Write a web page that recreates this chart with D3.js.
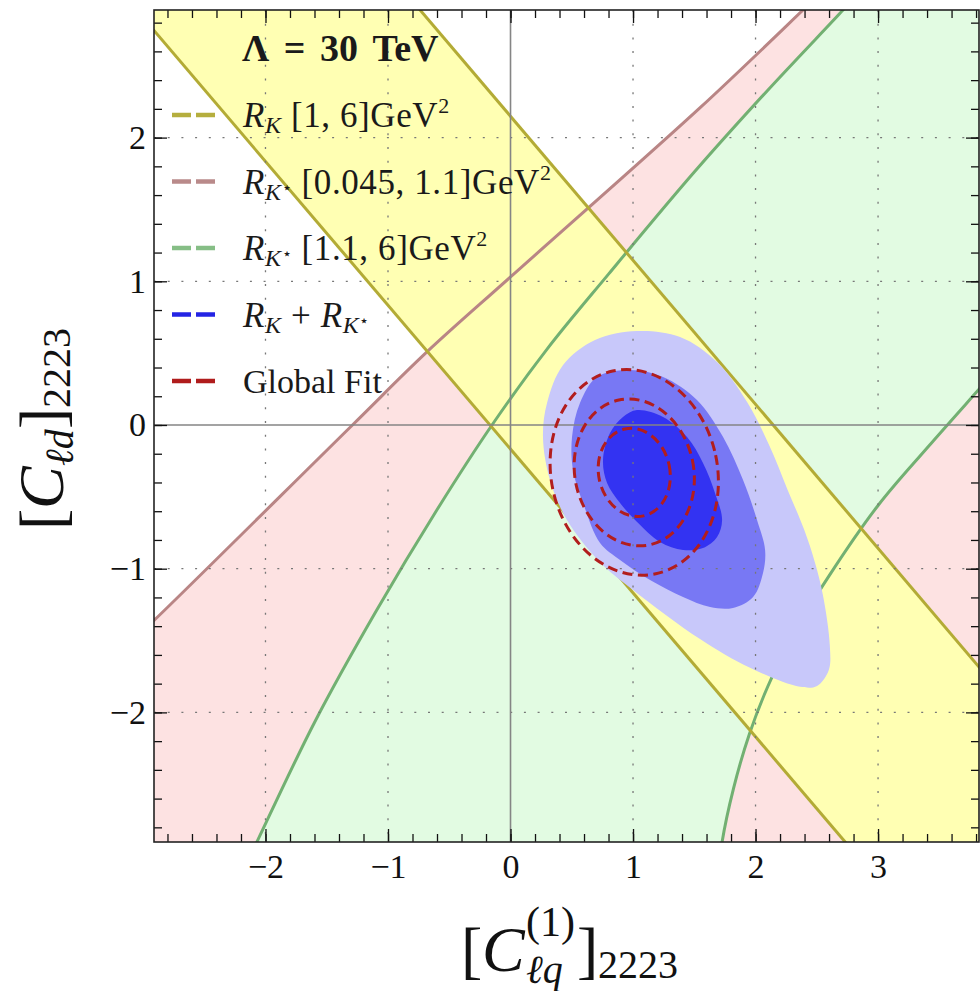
<!DOCTYPE html>
<html>
<head>
<meta charset="utf-8">
<script src="https://cdn.jsdelivr.net/npm/d3@7"></script>
<style>
    body { margin: 0; background: #fff; }
    svg { display: block; font-family: "Liberation Serif", "Times New Roman", "DejaVu Serif", serif; }
</style>
</head>
<body>
<div id="chart"></div>
<script>
// axis ranges and ticks
const xDomain = [-2.91, 3.824];
const yDomain = [-2.902, 2.888];
const xTicks = [-2, -1, 0, 1, 2, 3];
const yTicks = [-2, -1, 0, 1, 2];
const minorStep = 0.2;

// R_K [1,6] band : two points on each straight edge
const rkLowerEdge = [[-2.90, 2.735], [2.73, -2.90]];
const rkUpperEdge = [[-0.74, 2.89], [3.83, -1.69]];

// R_K* [0.045,1.1] boundary (allowed side is below / right)
const rksLowEdge = [[-3.0, -1.43], [-2.91, -1.36], [-1.29, 0], [-0.68, 0.51], [0, 1.03], [1.55, 2.21], [2.39, 2.89], [2.5, 2.98]];

// R_K* [1.1,6] boundaries (allowed between them)
const rksHighLeft = [[-2.12, -2.99], [-2.069, -2.90], [-1.6, -2.07], [-1.1, -1.30], [-0.6, -0.59], [-0.151, 0], [0.3, 0.53], [0.8, 1.05], [1.5, 1.76], [2.1, 2.33], [2.714, 2.888], [2.80, 2.97]];
const rksHighRight = [[3.95, 0.37], [3.833, 0.257], [3.4, -0.16], [3.0, -0.56], [2.6, -1.05], [2.3, -1.47], [2.1, -1.82], [1.95, -2.15], [1.82, -2.53], [1.727, -2.902], [1.715, -2.99]];

// R_K + R_K* contours (3, 2, 1 sigma)
const comb3 = [[1.033, 0.654], [1.384, 0.612], [1.686, 0.438], [1.931, 0.160], [2.118, -0.153], [2.262, -0.452], [2.398, -0.731], [2.486, -0.960], [2.553, -1.197], [2.606, -1.531], [2.598, -1.705], [2.502, -1.816], [2.363, -1.822], [1.955, -1.690], [1.547, -1.490], [1.000, -1.148], [0.731, -0.955], [0.461, -0.661], [0.322, -0.383], [0.265, -0.084], [0.298, 0.153], [0.429, 0.418], [0.690, 0.592]];
const comb2 = [[0.976, 0.383], [1.245, 0.334], [1.522, 0.174], [1.735, -0.084], [1.898, -0.383], [2.012, -0.661], [2.078, -0.870], [2.061, -1.030], [1.980, -1.197], [1.816, -1.273], [1.629, -1.267], [1.408, -1.197], [1.139, -1.079], [0.894, -0.939], [0.731, -0.821], [0.592, -0.543], [0.510, -0.313], [0.502, -0.084], [0.567, 0.153], [0.706, 0.334]];
const comb1 = [[1.033, 0.104], [1.245, 0.056], [1.441, -0.084], [1.571, -0.264], [1.669, -0.473], [1.727, -0.661], [1.686, -0.779], [1.571, -0.856], [1.408, -0.870], [1.220, -0.814], [1.033, -0.675], [0.894, -0.543], [0.788, -0.404], [0.755, -0.244], [0.812, -0.056], [0.918, 0.056]];

// global fit ellipses
const fitCenter = [1.01, -0.33];
const fitRadii = [0.30, 0.50, 0.70];

// legend
const legendTitle = 'Λ = 30 TeV';
const legendLabels = [
    [['R', 'i'], ['K', 'sub'], [' [1, 6]GeV', 'r'], ['2', 'sup']],
    [['R', 'i'], ['K', 'sub'], ['⋆', 'star'], [' [0.045, 1.1]GeV', 'r'], ['2', 'sup']],
    [['R', 'i'], ['K', 'sub'], ['⋆', 'star'], [' [1.1, 6]GeV', 'r'], ['2', 'sup']],
    [['R', 'i'], ['K', 'sub'], [' + ', 'r'], ['R', 'i'], ['K', 'sub'], ['⋆', 'star']],
    [['Global Fit', 'g']]
];

// ******************************* //
// DRAW
// ******************************* //
const W = 980, H = 991;
const P = { left: 154, right: 979, top: 10, bottom: 842 };

const svg = d3.select('#chart').append('svg').attr('width', W).attr('height', H);

const x = d3.scaleLinear().domain(xDomain).range([P.left, P.right]);
const y = d3.scaleLinear().domain(yDomain).range([P.bottom, P.top]);

svg.append('clipPath').attr('id', 'plot-clip')
    .append('rect')
    .attr('x', P.left).attr('y', P.top)
    .attr('width', P.right - P.left).attr('height', P.bottom - P.top);

const plot = svg.append('g').attr('clip-path', 'url(#plot-clip)');

const curve = d3.line().x(d => x(d[0])).y(d => y(d[1])).curve(d3.curveCatmullRom.alpha(0.5));
const closed = d3.line().x(d => x(d[0])).y(d => y(d[1])).curve(d3.curveCatmullRomClosed.alpha(0.5));
const straight = d3.line().x(d => x(d[0])).y(d => y(d[1]));
const pt = d => x(d[0]) + ',' + y(d[1]);

// far corners outside the frame, used to close fills
const x0 = xDomain[0] - 0.6, x1 = xDomain[1] + 0.6;
const y0 = yDomain[0] - 0.6, y1 = yDomain[1] + 0.6;

// pink : R_K* low q2
plot.append('path')
    .attr('d', curve(rksLowEdge) + 'L' + [[x1, y1], [x1, y0], [x0, y0]].map(pt).join('L') + 'Z')
    .attr('fill', '#fde2e2');

// green : R_K* high q2
plot.append('path')
    .attr('d', curve(rksHighLeft) + 'L' + pt([x1, y1]) + curve(rksHighRight).replace('M', 'L') + 'Z')
    .attr('fill', '#e2fbe2');

// yellow : R_K band
function extend(edge) {
    const m = (edge[1][1] - edge[0][1]) / (edge[1][0] - edge[0][0]);
    const f = xx => [xx, edge[0][1] + m * (xx - edge[0][0])];
    return [f(x0 - 3), f(x1 + 3)];
}
const lowE = extend(rkLowerEdge), upE = extend(rkUpperEdge);
plot.append('path')
    .attr('d', straight([lowE[0], lowE[1], upE[1], upE[0]]) + 'Z')
    .attr('fill', '#ffffb3');

// boundary lines
plot.append('path').attr('d', curve(rksLowEdge))
    .attr('fill', 'none').attr('stroke', '#b98585').attr('stroke-width', 3);
[rksHighLeft, rksHighRight].forEach(c => {
    plot.append('path').attr('d', curve(c))
        .attr('fill', 'none').attr('stroke', '#72b072').attr('stroke-width', 3);
});
[lowE, upE].forEach(e => {
    plot.append('path').attr('d', straight(e))
        .attr('fill', 'none').attr('stroke', '#b3ab35').attr('stroke-width', 3);
});

// R_K + R_K* contours
const combFills = ['#c8c8fa', '#7878f4', '#3333f2'];
[comb3, comb2, comb1].forEach((c, i) => {
    plot.append('path').attr('d', closed(c)).attr('fill', combFills[i]);
});

// grid
const gridX = xTicks.filter(d => d !== 0), gridY = yTicks.filter(d => d !== 0);
plot.selectAll('.grid-x').data(gridX).enter().append('line')
    .attr('x1', d => x(d)).attr('x2', d => x(d))
    .attr('y1', P.top).attr('y2', P.bottom)
    .attr('stroke', '#777').attr('stroke-width', 1.3).attr('stroke-dasharray', '2,11.7');
plot.selectAll('.grid-y').data(gridY).enter().append('line')
    .attr('y1', d => y(d)).attr('y2', d => y(d))
    .attr('x1', P.left).attr('x2', P.right)
    .attr('stroke', '#777').attr('stroke-width', 1.3).attr('stroke-dasharray', '2,11.7');

// zero lines
plot.append('line').attr('x1', x(0)).attr('x2', x(0)).attr('y1', P.top).attr('y2', P.bottom)
    .attr('stroke', '#858585').attr('stroke-width', 1.6);
plot.append('line').attr('y1', y(0)).attr('y2', y(0)).attr('x1', P.left).attr('x2', P.right)
    .attr('stroke', '#858585').attr('stroke-width', 1.6);

// global fit ellipses, slightly tilted
fitRadii.forEach(r => {
    const cx = x(fitCenter[0]), cy = y(fitCenter[1]);
    const rx = x(fitCenter[0] + r) - cx, ry = cy - y(fitCenter[1] + r);
    plot.append('ellipse')
        .attr('cx', cx).attr('cy', cy)
        .attr('rx', rx * 0.97).attr('ry', ry * 1.03)
        .attr('transform', `rotate(-12, ${cx}, ${cy})`)
        .attr('fill', 'none').attr('stroke', '#b21d1d')
        .attr('stroke-width', 3).attr('stroke-dasharray', '10,5.5');
});

// frame + ticks
const fmt = d3.format('d');
const minorX = d3.range(Math.ceil(xDomain[0] / minorStep), Math.floor(xDomain[1] / minorStep) + 1).map(i => +(i * minorStep).toFixed(2));
const minorY = d3.range(Math.ceil(yDomain[0] / minorStep), Math.floor(yDomain[1] / minorStep) + 1).map(i => +(i * minorStep).toFixed(2));

function frameAxis(axis, scale, major, minor, tr, labels, pad) {
    const gMinor = svg.append('g').attr('transform', tr)
        .call(axis(scale).tickValues(minor).tickSizeInner(-8).tickSizeOuter(0).tickFormat(''));
    const gMajor = svg.append('g').attr('transform', tr)
        .call(axis(scale).tickValues(major).tickSizeInner(-13).tickSizeOuter(0).tickPadding(pad)
            .tickFormat(labels ? fmt : ''));
    [gMinor, gMajor].forEach(g => {
        g.select('.domain').remove();
        g.selectAll('line').attr('stroke', '#111').attr('stroke-width', 1.3);
    });
    gMinor.selectAll('text').remove();
    gMajor.attr('font-family', '"Liberation Serif", "Times New Roman", serif').attr('font-size', 34);
    gMajor.selectAll('text').attr('fill', '#111');
    if (!labels) gMajor.selectAll('text').remove();
}
frameAxis(d3.axisBottom, x, xTicks, minorX, `translate(0,${P.bottom})`, true, 12);
frameAxis(d3.axisTop, x, xTicks, minorX, `translate(0,${P.top})`, false, 0);
frameAxis(d3.axisLeft, y, yTicks, minorY, `translate(${P.left},0)`, true, 8);
frameAxis(d3.axisRight, y, yTicks, minorY, `translate(${P.right},0)`, false, 0);

svg.append('rect')
    .attr('x', P.left).attr('y', P.top)
    .attr('width', P.right - P.left).attr('height', P.bottom - P.top)
    .attr('fill', 'none').attr('stroke', '#222').attr('stroke-width', 1.6);

// ******************************* //
// LEGEND
// ******************************* //
const kinds = {
    i: { size: 35, shift: 0, italic: true },
    sub: { size: 24, shift: 6, italic: true },
    star: { size: 16, shift: -1, italic: false },
    r: { size: 35, shift: 0, italic: false },
    g: { size: 34, shift: 0, italic: false },
    sup: { size: 22, shift: -14, italic: false }
};

function rich(g, tx, ty, parts, spacing) {
    const t = g.append('text').attr('x', tx).attr('y', ty)
        .attr('xml:space', 'preserve').style('white-space', 'pre')
        .style('letter-spacing', spacing + 'px')
        .attr('fill', '#1a1a1a');
    let cur = 0;
    parts.forEach(([txt, k]) => {
        const s = kinds[k];
        t.append('tspan')
            .attr('dy', s.shift - cur)
            .style('font-size', s.size + 'px')
            .style('font-style', s.italic ? 'italic' : 'normal')
            .text(txt);
        cur = s.shift;
    });
    return t;
}

const legend = svg.append('g');
legend.append('text')
    .attr('x', 242).attr('y', 61)
    .attr('xml:space', 'preserve').style('white-space', 'pre')
    .style('font-size', '38px').style('font-weight', 'bold')
    .style('word-spacing', '5px')
    .attr('fill', '#1a1a1a')
    .text(legendTitle);

const legendColors = ['#b5ae3e', '#b98a8a', '#86be86', '#2424e4', '#b01c1c'];
legendLabels.forEach((parts, i) => {
    const base = 127 + i * 66.5;
    legend.append('line')
        .attr('x1', 172).attr('x2', 215)
        .attr('y1', base - 12).attr('y2', base - 12)
        .attr('stroke', legendColors[i]).attr('stroke-width', 4.5)
        .attr('stroke-dasharray', '19,5');
    rich(legend, 243, base, parts, i < 4 ? 0.6 : 0);
});

// ******************************* //
// AXIS TITLES
// ******************************* //
// each piece: text, x, y, size, italic
function title(g, pieces) {
    const t = g.append('text').attr('fill', '#111');
    pieces.forEach(([txt, px, py, size, italic]) => {
        t.append('tspan')
            .attr('x', px).attr('y', py)
            .style('font-size', size + 'px')
            .style('font-style', italic ? 'italic' : 'normal')
            .text(txt);
    });
}

// x title  [C^(1)_lq]_2223
title(svg.append('g'), [
    ['[', 461, 971, 64, false],
    ['C', 482, 971, 64, true],
    ['(1)', 526, 936, 42, false],
    ['ℓq', 526, 983, 40, true],
    [']', 577, 971, 64, false],
    ['2223', 598, 978, 40, false]
]);

// y title  [C_ld]_2223, rotated
title(svg.append('g').attr('transform', 'rotate(-90)'), [
    ['[', -530, 63, 64, false],
    ['C', -509, 63, 64, true],
    ['ℓd', -466, 73, 40, true],
    [']', -429, 63, 64, false],
    ['2223', -408, 70, 40, false]
]);
</script>
</body>
</html>
